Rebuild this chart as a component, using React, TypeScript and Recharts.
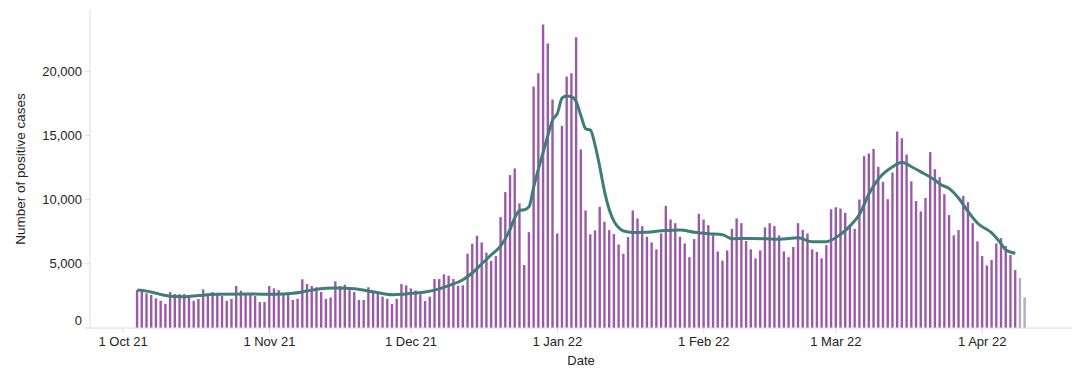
import { ComposedChart, Bar, Line, XAxis, YAxis, Cell } from "recharts";

// daily positive cases, one bar per day starting 4 Oct 2021
const startDate = "2021-10-04";
const dailyCases = [
  2950, 2820, 2700, 2570, 2310, 2120, 1870, 2800, 2640, 2640,
  2640, 2440, 2120, 2270, 3010, 2640, 2800, 2640, 2490, 2120,
  2270, 3270, 2900, 2640, 2640, 2490, 2020, 2020, 3270, 3080,
  2950, 2640, 2640, 2180, 2270, 3790, 3420, 3270, 3170, 2800,
  2270, 2380, 3630, 3270, 3370, 2950, 2800, 2180, 2180, 3170,
  2900, 2800, 2440, 2270, 1870, 2270, 3420, 3320, 3080, 2930,
  2620, 2100, 2440, 3810, 3810, 4170, 4070, 3810, 3290, 3320,
  5780, 6560, 7180, 6660, 5860, 5210, 5600, 8630, 10580, 11900,
  12420, 9700, 4900, 7460, 18790, 19830, 23620, 22140, 17780, 7360,
  15730, 19570, 19830, 22630, 13900, 9150, 7290, 7600, 9430, 8270,
  7620, 7310, 6500, 5780, 7080, 9150, 8530, 7930, 7100, 6660,
  6120, 7360, 9510, 8450, 8160, 7100, 6580, 5520, 6920, 8890,
  8450, 8010, 7210, 5960, 5240, 6040, 7720, 8530, 8160, 6770,
  6120, 5420, 6040, 7830, 8160, 7930, 7210, 5960, 5520, 6300,
  8160, 7640, 7360, 6120, 5930, 5420, 6450, 9240, 9400, 9300,
  8970, 8010, 7720, 10000, 13370, 13580, 13940, 12540, 11380, 10030,
  12100, 15290, 14770, 13500, 11410, 9880, 9070, 10130, 13690, 12360,
  11740, 10420, 8790, 7210, 7620, 10290, 9800, 8160, 6740, 5600,
  4870, 5290, 6580, 7000, 6380, 5680, 4510, 3890, 2390,
];
// last days are still incomplete
const incompleteDays = 2;

// 7-day average (bar number, 1-based -> value)
const avgBar = [
  1, 3, 5, 7, 9, 11, 14, 18, 25, 30, 34, 37, 41, 43, 47, 51, 55, 57, 59, 62,
  64, 67, 70, 72, 74, 76, 78, 80, 81, 82, 83, 84, 85, 86, 87, 88, 89, 90, 91, 92,
  93, 94, 95, 96, 97, 98, 99, 100, 101, 102, 103, 104, 106, 109, 112, 116, 119, 122, 125, 127,
  131, 134, 137, 141, 144, 147, 150, 152, 154, 156, 158, 161, 163, 165, 167, 170, 171, 173, 175, 177,
  179, 182, 184, 185, 187,
];
const avgValue = [
  2950, 2870, 2700, 2530, 2450, 2440, 2530, 2620, 2640, 2620, 2700, 2880, 3090, 3110, 3050, 2820, 2590, 2620, 2700, 2800,
  2950, 3300, 3750, 4300, 5000, 5700, 6400, 7700, 8600, 9150, 9200, 9450, 11000, 12400, 13700, 15000, 16200, 16700, 17900, 18050,
  18000, 17600, 16500, 15500, 15400, 14200, 12500, 10600, 9200, 8300, 7800, 7550, 7440, 7450, 7570, 7620, 7450, 7340, 7260, 6950,
  6970, 6950, 6900, 7020, 6710, 6720, 7300, 7950, 8850, 10450, 11600, 12550, 12900, 12550, 12150, 11500, 11200, 10850, 10100, 9050,
  8150, 7400, 6550, 6070, 5810,
];

const tickDates = ["2021-10-01", "2021-11-01", "2021-12-01", "2022-01-01", "2022-02-01", "2022-03-01", "2022-04-01"];
const tickLabels = ["1 Oct 21", "1 Nov 21", "1 Dec 21", "1 Jan 22", "1 Feb 22", "1 Mar 22", "1 Apr 22"];
const yTicks = [0, 5000, 10000, 15000, 20000];

const DAY = 86400000;
const t0 = Date.parse(startDate);
const xTicks = tickDates.map((d) => Date.parse(d));
const xDomain = [Date.parse("2021-09-24"), Date.parse("2022-04-20")];

const avgByBar = new Map(avgBar.map((b, i) => [b, avgValue[i]]));
const data = dailyCases.map((cases, i) => ({
  t: t0 + i * DAY,
  cases,
  avg: avgByBar.get(i + 1) ?? null,
}));

const purple = "#9b5aa7";
const grey = "#b2adc0";
const teal = "#3e7d79";
const axisGrey = "#dcdcdc";
const font = "'Liberation Sans', Arial, Helvetica, sans-serif";

// the bottom label sits flush above the axis end, like the original
const YTick = ({ x, y, payload }: any) => (
  <text
    x={x}
    y={payload.value === 0 ? y - 8 : y}
    dy="0.355em"
    textAnchor="end"
    fill="#222"
    fontSize={13}
    fontFamily={font}
  >
    {payload.value.toLocaleString("en-US")}
  </text>
);

export default function App() {
  return (
    <div style={{ position: "absolute", left: 0, top: 0, fontFamily: font }}>
      <ComposedChart width={1080} height={376} data={data} margin={{ top: 10, right: 8, left: 10, bottom: 8 }}>
        <XAxis
          type="number"
          dataKey="t"
          domain={xDomain}
          ticks={xTicks}
          tickFormatter={(v) => tickLabels[xTicks.indexOf(v)] ?? ""}
          height={40}
          tickSize={5}
          tickMargin={4}
          stroke={axisGrey}
          tick={{ fill: "#222", fontSize: 13, fontFamily: font }}
          label={{ value: "Date", position: "insideBottom", offset: 3, fill: "#222", fontSize: 13, fontFamily: font }}
        />
        <YAxis
          domain={[0, 24750]}
          ticks={yTicks}
          width={80}
          tickSize={5}
          tickMargin={3}
          stroke={axisGrey}
          tick={<YTick />}
          label={{
            value: "Number of positive cases",
            angle: -90,
            position: "insideLeft",
            offset: 10,
            style: { textAnchor: "middle" },
            fill: "#222",
            fontSize: 13.5,
            fontFamily: font,
          }}
        />
        <Bar dataKey="cases" barSize={2.4} isAnimationActive={false}>
          {data.map((d, i) => (
            <Cell key={d.t} fill={i >= data.length - incompleteDays ? grey : purple} />
          ))}
        </Bar>
        <Line
          type="monotone"
          dataKey="avg"
          stroke={teal}
          strokeWidth={3}
          dot={false}
          connectNulls
          isAnimationActive={false}
        />
      </ComposedChart>
    </div>
  );
}
